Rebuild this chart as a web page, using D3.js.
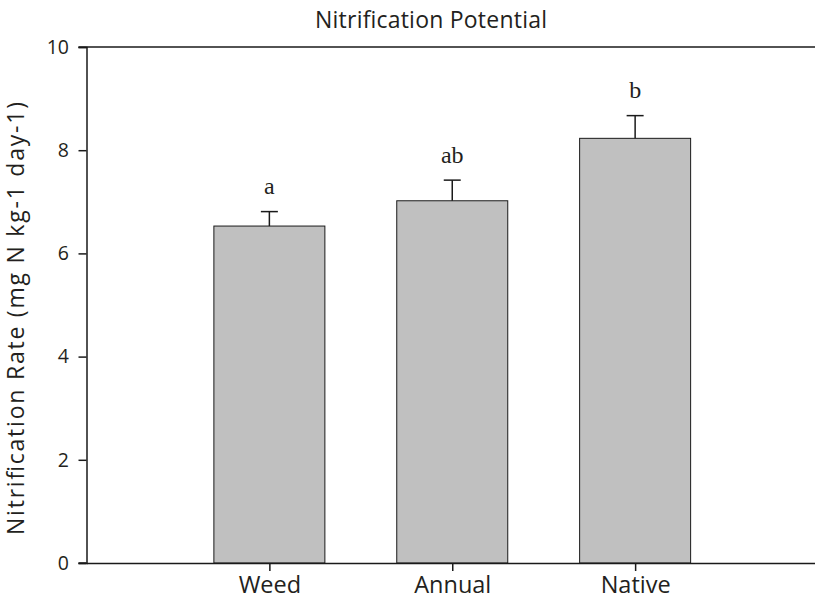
<!DOCTYPE html>
<html>
<head>
<meta charset="utf-8">
<script src="https://cdn.jsdelivr.net/npm/d3@7"></script>
<style>
  body { margin: 0; background: #fff; }
  svg { display: block; }
  text { fill: #231f20; }
</style>
</head>
<body>
<svg id="chart" width="815" height="606"></svg>
<script>
// Nitrification potential by vegetation type
const categories = ["Weed", "Annual", "Native"];
const means = [6.53, 7.02, 8.23];
const errors = [0.28, 0.40, 0.44];
const letters = ["a", "ab", "b"];
const yTicks = [0, 2, 4, 6, 8, 10];

const svg = d3.select("#chart");
const plotLeft = 86.5, plotRight = 818, plotTop = 47, plotBottom = 563;
const sans = "Open Sans, sans-serif";

const x = d3.scaleLinear().domain([0, categories.length + 1]).range([plotLeft, plotRight]);
const y = d3.scaleLinear().domain([0, 10]).range([plotBottom, plotTop]);
const barW = 111;

// Bars
svg.selectAll("rect.bar").data(means).join("rect")
  .attr("class", "bar")
  .attr("x", (d, i) => x(i + 1) - barW / 2)
  .attr("y", d => y(d))
  .attr("width", barW)
  .attr("height", d => y(0) - y(d))
  .attr("fill", "#c0c0c0")
  .attr("stroke", "#1a1a1a")
  .attr("stroke-width", 1);

// Upper error bars
const eb = svg.append("g").attr("stroke", "#1a1a1a").attr("stroke-width", 1.5);
means.forEach((m, i) => {
  const cx = x(i + 1);
  eb.append("line").attr("x1", cx).attr("x2", cx).attr("y1", y(m)).attr("y2", y(m + errors[i]));
  eb.append("line").attr("x1", cx - 8.5).attr("x2", cx + 8.5).attr("y1", y(m + errors[i])).attr("y2", y(m + errors[i]));
});

// Significance letters
svg.selectAll("text.letter").data(letters).join("text")
  .attr("class", "letter")
  .attr("x", (d, i) => x(i + 1))
  .attr("y", (d, i) => y(means[i] + errors[i]) - 17.5)
  .attr("text-anchor", "middle")
  .attr("font-family", "Liberation Serif, Times New Roman, serif")
  .attr("font-size", 24)
  .text(d => d);

// Left axis
const yAxis = svg.append("g")
  .attr("transform", `translate(${plotLeft},0)`)
  .call(d3.axisLeft(y).tickValues(yTicks).tickSize(8).tickPadding(9.5).tickFormat(d3.format("d")));
yAxis.select(".domain").attr("stroke-width", 1.5).attr("stroke", "#1a1a1a");
yAxis.selectAll(".tick line").attr("stroke-width", 1.5).attr("stroke", "#1a1a1a");
yAxis.selectAll(".tick text").attr("font-family", sans).attr("font-size", 19.5).attr("fill", "#231f20");

// Bottom axis
const xAxis = svg.append("g")
  .attr("transform", `translate(0,${plotBottom})`)
  .call(d3.axisBottom(x).tickValues([1, 2, 3]).tickSize(8).tickPadding(5)
    .tickFormat(d => categories[d - 1]).tickSizeOuter(0));
xAxis.select(".domain").attr("stroke-width", 1.5).attr("stroke", "#1a1a1a");
xAxis.selectAll(".tick line").attr("stroke-width", 1.5).attr("stroke", "#1a1a1a");
xAxis.selectAll(".tick text").attr("font-family", sans).attr("font-size", 23.5).attr("fill", "#231f20");

// Top frame line and left stub at zero
svg.append("line")
  .attr("x1", plotLeft - 8).attr("x2", plotRight)
  .attr("y1", plotTop).attr("y2", plotTop)
  .attr("stroke", "#1a1a1a").attr("stroke-width", 1.5);
svg.append("line")
  .attr("x1", plotLeft - 8).attr("x2", plotLeft)
  .attr("y1", plotBottom).attr("y2", plotBottom)
  .attr("stroke", "#1a1a1a").attr("stroke-width", 1.5);

// Title
svg.append("text")
  .attr("x", 431).attr("y", 28)
  .attr("text-anchor", "middle")
  .attr("font-family", sans)
  .attr("font-size", 23)
  .attr("textLength", 232)
  .attr("lengthAdjust", "spacing")
  .text("Nitrification Potential");

// Y axis title
svg.append("text")
  .attr("transform", `translate(24,318.5) rotate(-90)`)
  .attr("text-anchor", "middle")
  .attr("font-family", sans)
  .attr("font-size", 23)
  .attr("textLength", 433)
  .attr("lengthAdjust", "spacing")
  .text("Nitrification Rate (mg N kg-1 day-1)");
</script>
</body>
</html>
